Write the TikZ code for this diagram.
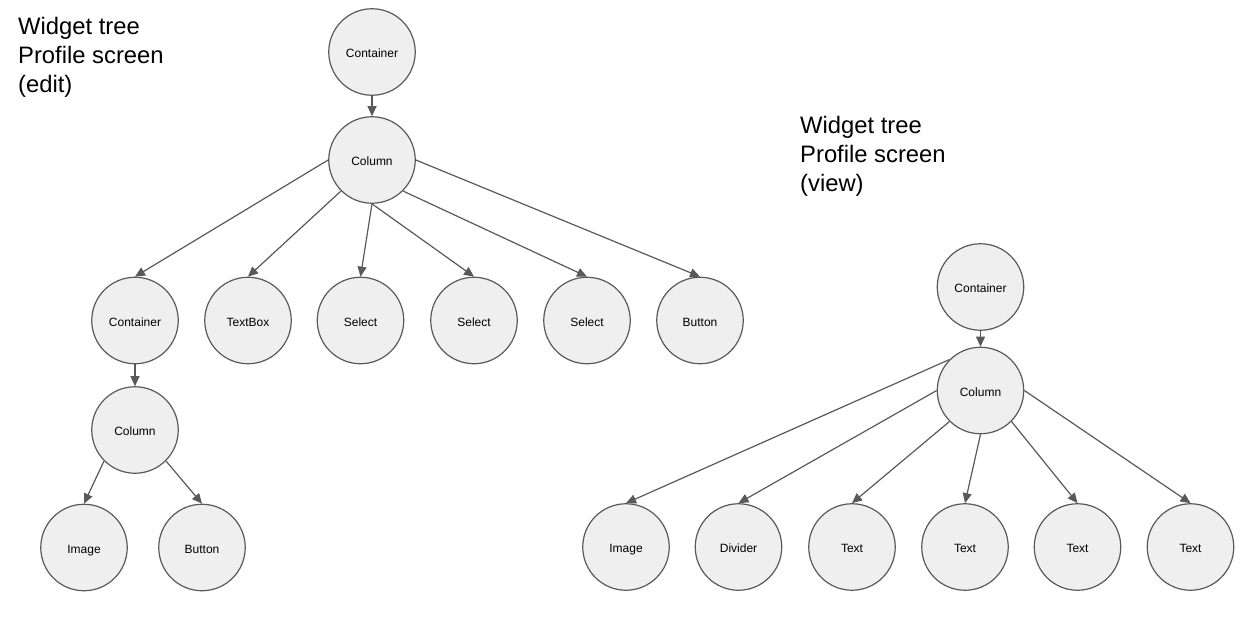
\documentclass[tikz,border=0pt]{standalone}
\usepackage{fontspec}
\setmainfont{Liberation Sans}
\usetikzlibrary{arrows.meta}
\definecolor{edgegray}{HTML}{595959}
\definecolor{nodefill}{HTML}{EFEFEF}
\tikzset{
  widget/.style={circle, draw=edgegray, line width=1.2pt, fill=nodefill,
    minimum size=86.5pt, inner sep=0pt, font=\fontsize{12}{14}\selectfont, text=black,
    text height=11pt, text depth=0pt},
  link/.style={draw=edgegray, line width=1.2pt, -{Triangle[length=10pt,width=9pt]}},
  title/.style={anchor=base west, align=left, inner sep=0pt,
    font=\fontsize{23.8}{29}\selectfont, text=black}
}
\begin{document}
\begin{tikzpicture}[x=1pt,y=-1pt]
\useasboundingbox (0,0) rectangle (1243,624);
% titles (anchored at the baseline of their last line)
\node[title] (t1) at (18,92) {Widget tree\\Profile screen\\(edit)};
\node[title] (t2) at (800,191) {Widget tree\\Profile screen\\(view)};
% left tree
\node[widget] (lc) at (372,52) {Container};
\node[widget] (lcol) at (372,160) {Column};
\node[widget] (lc2) at (135,320.5) {Container};
\node[widget] (ltb) at (248,320.5) {TextBox};
\node[widget] (ls1) at (360.5,320.5) {Select};
\node[widget] (ls2) at (474,320.5) {Select};
\node[widget] (ls3) at (587,320.5) {Select};
\node[widget] (lbt) at (700,320.5) {Button};
\node[widget] (lcol2) at (135,430) {Column};
\node[widget] (limg) at (84,547.5) {Image};
\node[widget] (lbt2) at (202,547.5) {Button};
\draw[link] (lc.south) -- (lcol.north);
\draw[link] (lcol.west) -- (lc2.north);
\draw[link] (lcol.south west) -- (ltb.north);
\draw[link] (lcol.south) -- (ls1.north);
\draw[link] (lcol.south) -- (ls2.north);
\draw[link] (lcol.south east) -- (ls3.north);
\draw[link] (lcol.east) -- (lbt.north);
\draw[link] (lc2.south) -- (lcol2.north);
\draw[link] (lcol2.south west) -- (limg.north);
\draw[link] (lcol2.south east) -- (lbt2.north);
% right tree
\node[widget] (rc) at (980.5,287) {Container};
\node[widget] (rcol) at (980.5,390.5) {Column};
\node[widget] (rimg) at (626,547) {Image};
\node[widget] (rdiv) at (738.5,547) {Divider};
\node[widget] (rt1) at (852,547) {Text};
\node[widget] (rt2) at (965,547) {Text};
\node[widget] (rt3) at (1077.5,547) {Text};
\node[widget] (rt4) at (1190.5,547) {Text};
\draw[link] (rc.south) -- (rcol.north);
\draw[link] (rcol.north west) -- (rimg.north);
\draw[link] (rcol.west) -- (rdiv.north);
\draw[link] (rcol.south west) -- (rt1.north);
\draw[link] (rcol.south) -- (rt2.north);
\draw[link] (rcol.south east) -- (rt3.north);
\draw[link] (rcol.east) -- (rt4.north);
\end{tikzpicture}
\end{document}
